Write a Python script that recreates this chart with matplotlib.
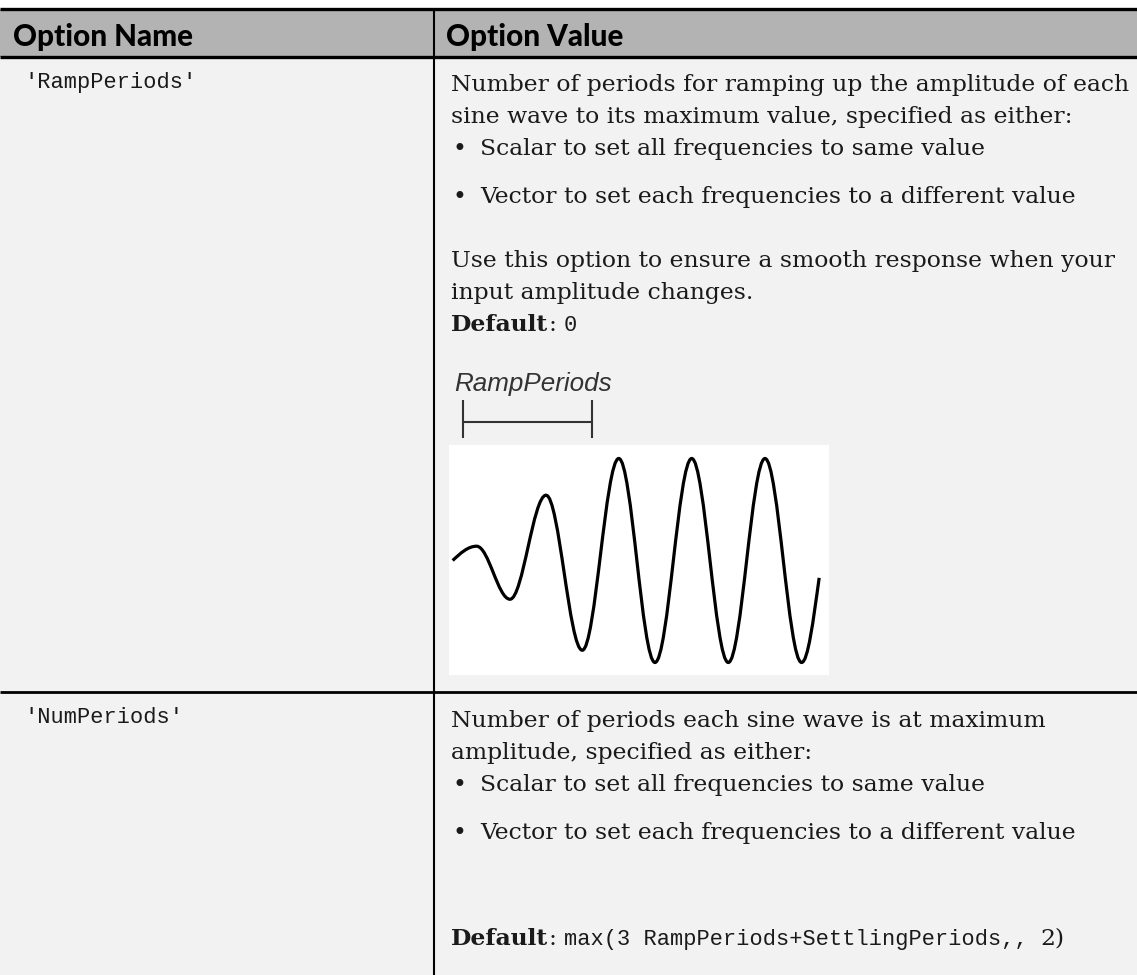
import matplotlib
matplotlib.use("Agg")
import matplotlib.pyplot as plt
from matplotlib.path import Path
from matplotlib.patches import PathPatch, Rectangle
from matplotlib.font_manager import FontProperties

W, H, DPI = 1137, 975, 100

# ---------------- content ----------------
headers = ["Option Name", "Option Value"]
option_names = ["'RampPeriods'", "'NumPeriods'"]
ramp_intro = ["Number of periods for ramping up the amplitude of each",
              "sine wave to its maximum value, specified as either:"]
num_intro = ["Number of periods each sine wave is at maximum",
             "amplitude, specified as either:"]
bullets = ["Scalar to set all frequencies to same value",
           "Vector to set each frequencies to a different value"]
ramp_note = ["Use this option to ensure a smooth response when your",
             "input amplitude changes."]
default_label = "Default"
ramp_default = "0"
num_default_code = "max(3 RampPeriods+SettlingPeriods,,"
num_default_tail = "2)"
wave_label = "RampPeriods"

# sine-wave illustration: extrema
# (time in periods, amplitude relative to the maximum)
wave_t = [0.0, 0.327, 0.782, 1.274, 1.768, 2.266, 2.760, 3.261, 3.760, 4.261, 4.760, 5.0]
wave_y = [0.0, 0.14, -0.38, 0.64, -0.88, 1.0, -1.0, 1.0, -1.0, 1.0, -1.0, -0.17]
ramp_span = [0.136, 1.896]   # extent of the RampPeriods bracket (periods)

# ---------------- colours ----------------
HEADER_BG = "#b3b3b3"
BODY_BG = "#f2f2f2"
INK = "#1a1a1a"

fig = plt.figure(figsize=(W / DPI, H / DPI), dpi=DPI, facecolor="white")
renderer = fig.canvas.get_renderer()
ax = fig.add_axes([0, 0, 1, 1])
ax.set_xlim(0, W)
ax.set_ylim(H, 0)
ax.set_axis_off()


def width(s, fp):
    w, h, d = renderer.get_text_width_height_descent(s, fp, ismath=False)
    return w


def fit(fp, s, target):
    fp.set_size(10)
    fp.set_size(10 * target / width(s, fp))
    return fp


serif = fit(FontProperties(family="DejaVu Serif"), ramp_intro[0], 680)
serif_b = FontProperties(family="DejaVu Serif", weight="bold", size=serif.get_size())
mono = fit(FontProperties(family="Liberation Mono"), option_names[0], 172)
head = fit(FontProperties(family="Lato", weight="black"), headers[0], 180)
lab = fit(FontProperties(family="Liberation Sans", style="italic"), wave_label, 158)


def space(fp):
    return width("x x", fp) - width("xx", fp)


def runs(x, y, items):
    for s, fp, gap in items:
        ax.text(x, y, s, fontproperties=fp, va="baseline", ha="left", color=INK)
        x += width(s, fp) + (space(fp) if gap else 0)


# ---------------- table frame ----------------
ax.add_patch(Rectangle((0, 9), W, 48, color=HEADER_BG, lw=0))
ax.add_patch(Rectangle((0, 57), W, H - 57, color=BODY_BG, lw=0))
ax.plot([0, W], [9, 9], color="black", lw=2.4, solid_capstyle="butt")
ax.plot([0, W], [56.5, 56.5], color="black", lw=2.4, solid_capstyle="butt")
ax.plot([0, W], [692, 692], color="black", lw=2.0, solid_capstyle="butt")
ax.plot([434, 434], [9, H], color="black", lw=1.5, solid_capstyle="butt")

# header
ax.text(13, 46, headers[0], fontproperties=head, va="baseline", color="black")
ax.text(446, 46, headers[1], fontproperties=head, va="baseline", color="black")

# option names
ax.text(24, 88, option_names[0], fontproperties=mono, va="baseline", color=INK)
ax.text(24, 723, option_names[1], fontproperties=mono, va="baseline", color=INK)

XT, XB, XBT = 451, 453, 480
LS = 32

# ---- row 1 ----
y = 90.5
for line in ramp_intro:
    ax.text(XT, y, line, fontproperties=serif, va="baseline", color=INK)
    y += LS
by = [154.5, 203]
for b, yy in zip(bullets, by):
    ax.text(XB, yy, "\u2022", fontproperties=serif, va="baseline", color=INK)
    ax.text(XBT, yy, b, fontproperties=serif, va="baseline", color=INK)
ax.text(XT, 266.5, ramp_note[0], fontproperties=serif, va="baseline", color=INK)
ax.text(XT, 298.5, ramp_note[1], fontproperties=serif, va="baseline", color=INK)
runs(XT, 331, [(default_label, serif_b, False), (":", serif, True), (ramp_default, mono, False)])

ax.text(454, 391, wave_label, fontproperties=lab, va="baseline", color="#333333")

# ---- row 2 ----
y = 727
for line in num_intro:
    ax.text(XT, y, line, fontproperties=serif, va="baseline", color=INK)
    y += LS
by = [791, 839]
for b, yy in zip(bullets, by):
    ax.text(XB, yy, "\u2022", fontproperties=serif, va="baseline", color=INK)
    ax.text(XBT, yy, b, fontproperties=serif, va="baseline", color=INK)
runs(XT, 945, [(default_label, serif_b, False), (":", serif, True),
               (num_default_code, mono, True), (num_default_tail, serif, False)])

# ---------------- wave illustration ----------------
ax2 = fig.add_axes([449 / W, 1 - 675 / H, 380 / W, 230 / H])
ax2.set_facecolor("white")
for s in ax2.spines.values():
    s.set_visible(False)
ax2.set_xticks([])
ax2.set_yticks([])
ax2.set_xlim(-0.05, 5.134)
ax2.set_ylim(-1.1225, 1.132)

verts = [(wave_t[0], wave_y[0])]
codes = [Path.MOVETO]
n = len(wave_t)
for i in range(n - 1):
    t0, y0, t1, y1 = wave_t[i], wave_y[i], wave_t[i + 1], wave_y[i + 1]
    dt = t1 - t0
    c1 = (t0 + dt / 3, y0 + (y1 - y0) * 0.52) if i == 0 else (t0 + 0.36 * dt, y0)
    c2 = (t1 - dt / 3, y1 - (y1 - y0) * 0.5) if i == n - 2 else (t1 - 0.36 * dt, y1)
    verts += [c1, c2, (t1, y1)]
    codes += [Path.CURVE4] * 3
ax2.add_patch(PathPatch(Path(verts, codes), fill=False, lw=2.3, edgecolor="black",
                        capstyle="butt", joinstyle="round"))

# RampPeriods bracket
bc = "#333333"
ax2.plot(ramp_span, [1.355, 1.355], color=bc, lw=1.5, clip_on=False, solid_capstyle="butt")
for xb in ramp_span:
    ax2.plot([xb, xb], [1.20, 1.575], color=bc, lw=1.5, clip_on=False, solid_capstyle="butt")

fig.savefig("out.png", dpi=DPI, facecolor=fig.get_facecolor())
